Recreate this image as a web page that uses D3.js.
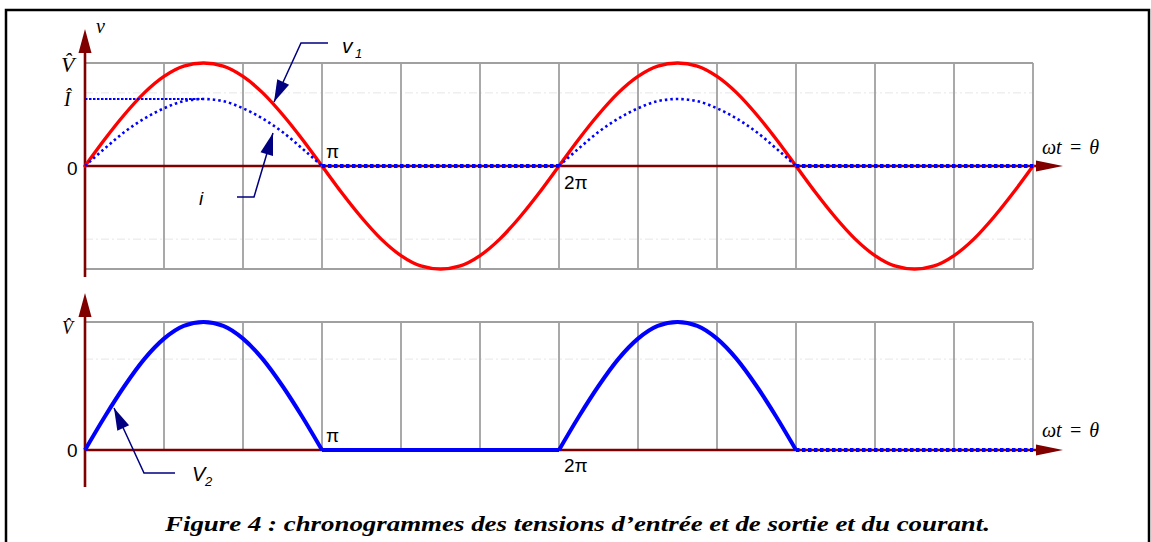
<!DOCTYPE html>
<html>
<head>
<meta charset="utf-8">
<script src="https://cdn.jsdelivr.net/npm/d3@7/dist/d3.min.js"></script>
<style>
  html, body { margin: 0; padding: 0; background: #fff; }
  svg { display: block; }
</style>
</head>
<body>
<svg id="chart" width="1151" height="542"></svg>
<script>
// Angle samples, in twelfths of π (0 … 4π)
const angleTwelfths = [0,1,2,3,4,5,6,7,8,9,10,11,12,13,14,15,16,17,18,19,20,21,22,23,24,
                       25,26,27,28,29,30,31,32,33,34,35,36,37,38,39,40,41,42,43,44,45,46,47,48];

// Input voltage v1 (in units of V̂)
const v1Values = [0,.26,.5,.71,.87,.97,1,.97,.87,.71,.5,.26,0,-.26,-.5,-.71,-.87,-.97,-1,-.97,-.87,-.71,-.5,-.26,0,
                  .26,.5,.71,.87,.97,1,.97,.87,.71,.5,.26,0,-.26,-.5,-.71,-.87,-.97,-1,-.97,-.87,-.71,-.5,-.26,0];

// Current i (in units of V̂, peak Î)
const iValues = [0,.17,.33,.46,.56,.63,.65,.63,.56,.46,.33,.17,0,0,0,0,0,0,0,0,0,0,0,0,0,
                 .17,.33,.46,.56,.63,.65,.63,.56,.46,.33,.17,0,0,0,0,0,0,0,0,0,0,0,0,0];

// Output voltage V2 (in units of V̂)
const v2Values = [0,.26,.5,.71,.87,.97,1,.97,.87,.71,.5,.26,0,0,0,0,0,0,0,0,0,0,0,0,0,
                  .26,.5,.71,.87,.97,1,.97,.87,.71,.5,.26,0,0,0,0,0,0,0,0,0,0,0,0,0];

const iPeak = 0.65;          // Î level
const rmsLevel = 0.71;       // faint reference level
const gridThirds = [0,1,2,3,4,5,6,7,8,9,10,11,12];   // vertical grid, in thirds of π
const piTicks = [1, 2];
const piTickLabels = ["π", "2π"];
const caption = "Figure 4 : chronogrammes des tensions d\u2019entrée et de sortie et du courant.";

const svg = d3.select("#chart");
const AXIS = "#800000", GRID = "#a0a0a0", NAVY = "#000080";

const x = d3.scaleLinear().domain([0, 4 * Math.PI]).range([85, 1033]);
const yTop = d3.scaleLinear().domain([-1, 1]).range([269, 63]);
const yBot = d3.scaleLinear().domain([0, 1]).range([450, 322]);

const pts = (vals) => angleTwelfths.map((k, j) => ({ t: k * Math.PI / 12, v: vals[j], k }));
const span = (arr, a, b) => arr.filter(d => d.k >= a && d.k <= b);

// conducting half-periods and blocked half-periods (in twelfths of π)
const arcs = [[0, 12], [24, 36]], flats = [[12, 24], [36, 48]];

// frame
svg.append("rect").attr("x", 6).attr("y", 10).attr("width", 1143).attr("height", 600)
  .attr("fill", "none").attr("stroke", "#000").attr("stroke-width", 2.5);

function panelGrid(y, yLo, yHi, drawBottom) {
  const g = svg.append("g");
  const levels = yLo < 0 ? [rmsLevel, -rmsLevel] : [rmsLevel];
  g.selectAll("line.rms").data(levels).join("line").attr("class", "rms")
    .attr("x1", x(0)).attr("x2", x(4 * Math.PI))
    .attr("y1", d => y(d)).attr("y2", d => y(d))
    .attr("stroke", "#e6e6e6").attr("stroke-width", 1).attr("stroke-dasharray", "8,3,2,3");
  g.selectAll("line.v").data(gridThirds).join("line").attr("class", "v")
    .attr("x1", d => x(d * Math.PI / 3)).attr("x2", d => x(d * Math.PI / 3))
    .attr("y1", y(yHi)).attr("y2", y(yLo))
    .attr("stroke", GRID).attr("stroke-width", 1.8);
  g.append("line").attr("x1", x(0)).attr("x2", x(4 * Math.PI))
    .attr("y1", y(yHi)).attr("y2", y(yHi)).attr("stroke", GRID).attr("stroke-width", 1.8);
  if (drawBottom) {
    g.append("line").attr("x1", x(0)).attr("x2", x(4 * Math.PI))
      .attr("y1", y(yLo)).attr("y2", y(yLo)).attr("stroke", GRID).attr("stroke-width", 1.8);
  }
}

function axes(y, yTopPx, yBottomPx) {
  const y0 = y(0), x0 = x(0);
  svg.append("line").attr("x1", x0).attr("x2", x0).attr("y1", yBottomPx).attr("y2", yTopPx + 20)
    .attr("stroke", AXIS).attr("stroke-width", 2.6);
  svg.append("path").attr("d", `M${x0},${yTopPx} L${x0 - 6.5},${yTopPx + 24} L${x0 + 6.5},${yTopPx + 24} Z`)
    .attr("fill", AXIS);
  svg.append("line").attr("x1", x0).attr("x2", x(4 * Math.PI) + 8).attr("y1", y0).attr("y2", y0)
    .attr("stroke", AXIS).attr("stroke-width", 2.6);
  const xe = x(4 * Math.PI) + 30;
  svg.append("path").attr("d", `M${xe},${y0} L${xe - 27},${y0 - 5.5} L${xe - 27},${y0 + 5.5} Z`)
    .attr("fill", AXIS);
}

// ---------- top panel ----------
panelGrid(yTop, -1, 1, true);
axes(yTop, 29, 277);

const lineTop = d3.line().x(d => x(d.t)).y(d => yTop(d.v)).curve(d3.curveMonotoneX);
svg.append("path").datum(pts(v1Values)).attr("d", lineTop)
  .attr("fill", "none").attr("stroke", "#ff0000").attr("stroke-width", 3.4)
  .attr("stroke-linejoin", "round").attr("stroke-linecap", "round");

// Î reference
svg.append("line").attr("x1", x(0)).attr("x2", x(Math.PI / 2))
  .attr("y1", yTop(iPeak)).attr("y2", yTop(iPeak))
  .attr("stroke", "#0000ff").attr("stroke-width", 2).attr("stroke-dasharray", "2.5,1.5");

// current i
const iPts = pts(iValues);
arcs.forEach(([a, b]) => {
  svg.append("path").datum(span(iPts, a, b)).attr("d", lineTop)
    .attr("fill", "none").attr("stroke", "#0000ff").attr("stroke-width", 2.6)
    .attr("stroke-dasharray", "2.5,3");
});
flats.forEach(([a, b]) => {
  svg.append("path").datum(span(iPts, a, b)).attr("d", lineTop)
    .attr("fill", "none").attr("stroke", "#0000ff").attr("stroke-width", 4)
    .attr("stroke-dasharray", "3.5,2.5");
});

// ---------- bottom panel ----------
panelGrid(yBot, 0, 1, false);
axes(yBot, 293, 487);

const lineBot = d3.line().x(d => x(d.t)).y(d => yBot(d.v)).curve(d3.curveMonotoneX);
const v2Pts = pts(v2Values);
// solid: both arcs and the first blocked stretch; dotted: the last blocked stretch
[[0, 12], [12, 24], [24, 36]].forEach(([a, b]) => {
  svg.append("path").datum(span(v2Pts, a, b)).attr("d", lineBot)
    .attr("fill", "none").attr("stroke", "#0000ff").attr("stroke-width", 4)
    .attr("stroke-linejoin", "round");
});
svg.append("path").datum(span(v2Pts, 36, 48)).attr("d", lineBot)
  .attr("fill", "none").attr("stroke", "#0000ff").attr("stroke-width", 4)
  .attr("stroke-dasharray", "3.5,2.5");

// ---------- labels ----------
const SANS = "'Liberation Sans', Arial, sans-serif";
const SERIF = "'Liberation Serif', 'Times New Roman', serif";

function txt(xp, yp, s, size, family, style, weight) {
  return svg.append("text").attr("x", xp).attr("y", yp).text(s)
    .attr("font-family", family).attr("font-size", size)
    .attr("font-style", style || "normal").attr("font-weight", weight || "normal")
    .attr("fill", "#000");
}

// top panel
txt(96, 33, "v", 20, SERIF, "italic");
txt(61, yTop(1) + 9, "V\u0302", 22, SERIF, "italic");
txt(64, yTop(iPeak) + 7, "I\u0302", 20, SERIF, "italic");
txt(67, yTop(0) + 9, "0", 19, SANS);
txt(x(piTicks[0] * Math.PI) + 4, yTop(0) - 8, piTickLabels[0], 19, SANS);
txt(x(piTicks[1] * Math.PI) + 5, yTop(0) + 23, piTickLabels[1], 19, SANS);
txt(1042, yTop(0) - 12, "\u03C9t = \u03B8", 20, SERIF, "italic").attr("word-spacing", 2);

// bottom panel
txt(62, yBot(1) + 12, "V\u0302", 18, SERIF, "italic");
txt(67, yBot(0) + 7, "0", 19, SANS);
txt(x(piTicks[0] * Math.PI) + 4, yBot(0) - 8, piTickLabels[0], 19, SANS);
txt(x(piTicks[1] * Math.PI) + 5, yBot(0) + 22, piTickLabels[1], 19, SANS);
txt(1042, yBot(0) - 13, "\u03C9t = \u03B8", 20, SERIF, "italic").attr("word-spacing", 2);

// leaders with arrowheads
function leader(points, color) {
  svg.append("path").attr("d", d3.line()(points))
    .attr("fill", "none").attr("stroke", color).attr("stroke-width", 1.5);
  const [tx, ty] = points[points.length - 1], [px, py] = points[points.length - 2];
  const a = Math.atan2(ty - py, tx - px), L = 22, W = 6.5;
  const bx = tx - L * Math.cos(a), by = ty - L * Math.sin(a);
  const nx = -Math.sin(a) * W, ny = Math.cos(a) * W;
  svg.append("path").attr("d", `M${tx},${ty} L${bx + nx},${by + ny} L${bx - nx},${by - ny} Z`)
    .attr("fill", color);
}
leader([[328, 43], [301, 43], [274, 102]], NAVY);
leader([[237, 197], [254, 197], [273, 133]], NAVY);
leader([[175, 473], [144, 473], [114, 408]], NAVY);

txt(342, 53, "v", 21, SANS, "italic");
txt(355, 58, "1", 13, SANS, "italic");
txt(199, 205, "i", 19, SANS, "italic");
txt(192, 481, "V", 20, SANS, "italic");
txt(205, 486, "2", 13, SANS, "italic");

// caption
txt(577.5, 531, caption, 21, SERIF, "italic", "bold")
  .attr("text-anchor", "middle").attr("textLength", 825).attr("lengthAdjust", "spacingAndGlyphs");
</script>
</body>
</html>
